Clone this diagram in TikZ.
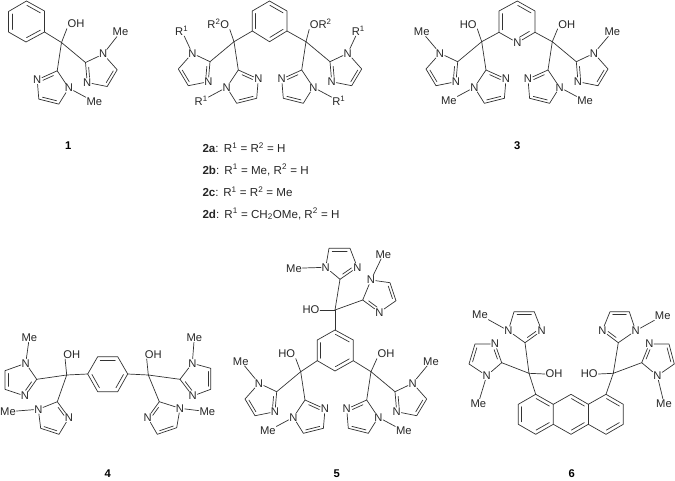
\documentclass[tikz,border=0pt]{standalone}
\usepackage{fontspec}
\setmainfont{Liberation Sans}
\usetikzlibrary{calc}
\definecolor{bondgrey}{gray}{0.2}
\tikzset{
  bond/.style={line width=.7pt,draw=bondgrey,line join=round,line cap=round},
  inbond/.style={bond,shorten >=#1,shorten <=#1},
  inbond/.default=1pt,
  atom/.style={inner sep=.5pt,font=\fontsize{11.2}{12}\selectfont,text=black!85},
  cmpd/.style={inner sep=0pt,font=\fontsize{11.2}{12}\selectfont\bfseries},
  legend/.style={inner sep=0pt,anchor=west,font=\fontsize{11.6}{12}\selectfont,text=black!85}
}
% inner line of a double bond a=b, drawn towards centre c
\newcommand\dbl[4][1pt]{\draw[inbond=#1] ($(#2)!.2!(#4)$) -- ($(#3)!.2!(#4)$);}
% imidazole: prefix, C2, N1, C5, C4, N3, substituent position, substituent text
\newcommand\imid[8]{%
  \coordinate (#1c2) at #2;
  \node[atom] (#1n1) at #3 {N};
  \coordinate (#1c5) at #4;
  \coordinate (#1c4) at #5;
  \node[atom] (#1n3) at #6 {N};
  \node[atom] (#1s) at #7 {#8};
  \coordinate (#1m) at ($.2*#2+.2*#3+.2*#4+.2*#5+.2*#6$);
  \draw[bond] (#1c2)--(#1n1)--(#1c5)--(#1c4)--(#1n3)--(#1c2);
  \draw[bond] (#1n1)--(#1s);
  \dbl[3pt]{#1c2}{#1n3}{#1m}
  \dbl{#1c5}{#1c4}{#1m}
}
% di(imidazolyl)carbinol arm: prefix, x, y, sign, substituent A position, substituent text
\newcommand\arm[6]{%
  \begin{scope}[shift={(#2,#3)},xscale=#4]
    \coordinate (#1C) at (0,0);
    \imid{#1a}{(-24,20)}{(-41.7,11.6)}{(-55.7,27.3)}{(-45.7,44)}{(-25.7,40)}{#5}{#6}
    \imid{#1b}{(4.3,28.3)}{(-7.3,45.6)}{(2.7,61.6)}{(22.7,56.6)}{(24.3,37.3)}{(-32.8,59.3)}{#6}
    \draw[bond] (#1C)--(#1ac2);
    \draw[bond] (#1C)--(#1bc2);
  \end{scope}
}
% benzene: prefix and six corners; double bonds 1-2, 3-4, 5-6
\newcommand\hexa[7]{%
  \coordinate (#11) at #2; \coordinate (#12) at #3; \coordinate (#13) at #4;
  \coordinate (#14) at #5; \coordinate (#15) at #6; \coordinate (#16) at #7;
  \coordinate (#1m) at ($(#11)!.5!(#14)$);
  \draw[bond] (#11)--(#12)--(#13)--(#14)--(#15)--(#16)--cycle;
  \dbl[.5pt]{#11}{#12}{#1m}
  \dbl[.5pt]{#13}{#14}{#1m}
  \dbl[.5pt]{#15}{#16}{#1m}
}
\begin{document}
\begin{tikzpicture}[x=1pt,y=-1pt]
\useasboundingbox (0,0) rectangle (675,480);

% ---------- 1
\hexa{pa}{(26.5,1)}{(44.5,11)}{(44.5,32)}{(26,42)}{(8.5,32)}{(8.5,11.5)}
\arm{ma}{61.5}{42.5}{-1}{(-59,-10.5)}{Me}
\node[atom] (oa) at (76,24) {OH};
\draw[bond] (maC)--(oa.south west);
\draw[bond] (maC)--(pa3);
\node[cmpd] (la) at (68.3,146) {1};

% ---------- 2
\hexa{pb}{(269.5,1)}{(287,11)}{(287,31)}{(269.5,41.7)}{(252.3,31)}{(252.3,11)}
\arm{mb}{234}{41.7}{1}{(-52.3,-11)}{R\textsuperscript{1}}
\arm{mc}{540-234}{41.7}{-1}{(-52.3,-11)}{R\textsuperscript{1}}
\node[atom] (ob) at (218.3,24) {R\textsuperscript{2}O};
\node[atom] (oc) at (320.7,24) {OR\textsuperscript{2}};
\draw[bond] (mbC)--(ob.south east);
\draw[bond] (mcC)--(oc.south west);
\draw[bond] (mbC)--(pb5);
\draw[bond] (mcC)--(pb3);
\node[legend] (l2a) at (202.3,148) {\textbf{2a}:\hspace{.45em}R\textsuperscript{1} = R\textsuperscript{2} = H};
\node[legend] (l2b) at (202.3,170) {\textbf{2b}:\hspace{.45em}R\textsuperscript{1} = Me, R\textsuperscript{2} = H};
\node[legend] (l2c) at (202.3,192) {\textbf{2c}:\hspace{.4em}R\textsuperscript{1} = R\textsuperscript{2} = Me};
\node[legend] (l2d) at (202.3,214) {\textbf{2d}:\hspace{.45em}R\textsuperscript{1} = CH\textsubscript{2}OMe, R\textsuperscript{2} = H};

% ---------- 3
\coordinate (py1) at (517.3,1);
\coordinate (py2) at (535,11);
\coordinate (py3) at (535,32.3);
\node[atom] (py4) at (517.3,42.7) {N};
\coordinate (py5) at (499,32.3);
\coordinate (py6) at (499,11);
\coordinate (pym) at (517.3,21.7);
\draw[bond] (py1)--(py2)--(py3)--(py4)--(py5)--(py6)--(py1);
\dbl[.5pt]{py1}{py2}{pym}
\dbl[2.5pt]{py3}{py4}{pym}
\dbl[.5pt]{py5}{py6}{pym}
\arm{md}{481.7}{41.7}{1}{(-60,-10)}{Me}
\arm{me}{552.3}{41.7}{-1}{(-60,-10)}{Me}
\node[atom] (od) at (468.3,24.3) {HO};
\node[atom] (oe) at (566.7,24.3) {OH};
\draw[bond] (mdC)--(od.south east);
\draw[bond] (meC)--(oe.south west);
\draw[bond] (mdC)--(py5);
\draw[bond] (meC)--(py3);
\node[cmpd] (l3) at (517.3,146) {3};

% ---------- 4
\hexa{pf}{(97.7,356.7)}{(117.7,356.7)}{(127.7,374)}{(117.7,391.7)}{(97.7,391.7)}{(87.7,374)}
\coordinate (mfC) at (66.7,375);
\coordinate (mgC) at (148.3,375);
\imid{fa}{(36.7,379.3)}{(25.7,363.3)}{(5,370.7)}{(5,389.3)}{(25,396)}{(29.3,337.7)}{Me}
\imid{fb}{(57.3,401.7)}{(38.3,409.3)}{(40.7,428.3)}{(59,434.3)}{(69,417.7)}{(8,411.7)}{Me}
\imid{ga}{(180,379.3)}{(192.3,363.3)}{(210.7,368.3)}{(210.7,389.3)}{(192.7,396)}{(194.3,337.7)}{Me}
\imid{gb}{(159.3,401.7)}{(180,408.3)}{(176.7,427.7)}{(157.3,434.3)}{(147.7,417.7)}{(207.3,411.7)}{Me}
\node[atom] (of) at (71.7,354.3) {OH};
\node[atom] (og) at (153.3,354.3) {OH};
\draw[bond] (mfC)--($(of.south west)+(2.5,0)$);
\draw[bond] (mgC)--($(og.south west)+(2.5,0)$);
\draw[bond] (mfC)--(pf6);
\draw[bond] (mgC)--(pf3);
\draw[bond] (mfC)--(fac2);
\draw[bond] (mfC)--(fbc2);
\draw[bond] (mgC)--(gac2);
\draw[bond] (mgC)--(gbc2);
\node[cmpd] (l4) at (107.7,474) {4};

% ---------- 5
\hexa{ph}{(335,330)}{(353.3,340)}{(353.3,360.7)}{(335,371)}{(317.3,360.7)}{(317.3,340)}
\coordinate (mhC) at (335,310);
\imid{ha}{(340,279.3)}{(325.7,267.3)}{(329,248.3)}{(350,248.3)}{(357.3,267.3)}{(294,268.3)}{Me}
\imid{hb}{(362.7,300)}{(371,280)}{(390,282.7)}{(396,300.7)}{(379.3,312.3)}{(383.3,254.3)}{Me}
\node[atom] (oh) at (311,310) {HO};
\draw[bond] (mhC)--(oh.east);
\draw[bond] (mhC)--(hac2);
\draw[bond] (mhC)--(hbc2);
\draw[bond] (mhC)--(ph1);
\arm{mi}{300.7}{371.7}{1}{(-60,-10.5)}{Me}
\arm{mj}{371}{371.7}{-1}{(-60,-10.5)}{Me}
\node[atom] (oi) at (286.7,354) {HO};
\node[atom] (oj) at (386,354) {OH};
\draw[bond] (miC)--(oi.south east);
\draw[bond] (mjC)--(oj.south west);
\draw[bond] (miC)--(ph5);
\draw[bond] (mjC)--(ph3);
\node[cmpd] (l5) at (336.7,474) {5};

% ---------- 6
\coordinate (k1) at (535.7,394.3);
\coordinate (k2) at (518.3,404.3);
\coordinate (k3) at (518.3,424.3);
\coordinate (k4) at (535.7,434.3);
\coordinate (k5) at (553.3,424.3);
\coordinate (k6) at (553.3,404.3);
\coordinate (k7) at (571,394.3);
\coordinate (k8) at (571,434.3);
\coordinate (k9) at (588.3,404.3);
\coordinate (k10) at (588.3,424.3);
\coordinate (k11) at (606,394.3);
\coordinate (k12) at (623.3,404.3);
\coordinate (k13) at (623.3,424.3);
\coordinate (k14) at (606,434.3);
\coordinate (kl) at (535.7,414.3);
\coordinate (kc) at (571,414.3);
\coordinate (kr) at (606,414.3);
\draw[bond] (k1)--(k2)--(k3)--(k4)--(k5)--(k6)--(k1);
\draw[bond] (k6)--(k7)--(k9)--(k11)--(k12)--(k13)--(k14)--(k10)--(k8)--(k5);
\draw[bond] (k9)--(k10);
\dbl[.5pt]{k1}{k6}{kl}
\dbl[.5pt]{k2}{k3}{kl}
\dbl[.5pt]{k4}{k5}{kl}
\dbl[.5pt]{k7}{k9}{kc}
\dbl[.5pt]{k8}{k10}{kc}
\dbl[.5pt]{k11}{k12}{kr}
\dbl[.5pt]{k13}{k14}{kr}
\coordinate (mkC) at (529,373.3);
\coordinate (mlC) at (613.3,373.3);
\imid{ka}{(525,342.7)}{(508.3,330.7)}{(514,311.7)}{(534.3,311.7)}{(541.7,330.7)}{(480,315)}{Me}
\imid{kb}{(501.7,362.7)}{(486.7,375.7)}{(469,364)}{(475,344)}{(495,344)}{(478.3,403.3)}{Me}
\imid{la}{(618.3,342.7)}{(635.7,330.7)}{(629.3,311.7)}{(610,311.7)}{(602.3,330.7)}{(662.7,315.7)}{Me}
\imid{lb}{(641.7,362.7)}{(657.3,375.7)}{(674.3,364)}{(669,344)}{(649.3,344)}{(664,403.3)}{Me}
\node[atom] (ok) at (554,374) {OH};
\node[atom] (ol) at (589.3,374) {HO};
\draw[bond] (mkC)--(ok.west);
\draw[bond] (mlC)--(ol.east);
\draw[bond] (mkC)--(kac2);
\draw[bond] (mkC)--(kbc2);
\draw[bond] (mkC)--(k1);
\draw[bond] (mlC)--(lac2);
\draw[bond] (mlC)--(lbc2);
\draw[bond] (mlC)--(k11);
\node[cmpd] (l6) at (571.7,474) {6};
\end{tikzpicture}
\end{document}
